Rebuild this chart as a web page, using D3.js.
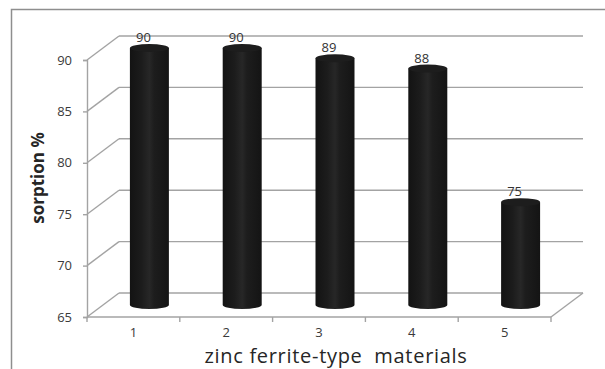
<!DOCTYPE html>
<html>
<head>
<meta charset="utf-8">
<script src="https://cdn.jsdelivr.net/npm/d3@7"></script>
<style>
  html, body { margin: 0; padding: 0; background: #fff; }
  svg { display: block; font-family: "Open Sans", "DejaVu Sans", sans-serif; }
</style>
</head>
<body>
<svg id="chart" width="605" height="369"></svg>
<script>
// Sorption of zinc ferrite-type materials
const categories = ["1", "2", "3", "4", "5"];
const sorption = [90, 90, 89, 88, 75];
const yTicks = [65, 70, 75, 80, 85, 90];

const svg = d3.select("#chart");

// Front plane of the 3-D plot box and the depth offset of the back wall
const x0 = 87, x1 = 551, yBottom = 317, yTop = 60;
const depthX = 32, depthY = -24;

const x = d3.scaleBand().domain(categories).range([x0, x1]).paddingInner(0).paddingOuter(0);
const y = d3.scaleLinear().domain([65, 90]).range([yBottom, yTop]);

const gridColor = "#a3a3a3";

// Outer chart frame
svg.append("rect")
  .attr("x", 11.5).attr("y", 9.5)
  .attr("width", 700).attr("height", 400)
  .attr("fill", "none").attr("stroke", "#8e8e8e").attr("stroke-width", 1.5);

// Back-wall gridlines and their side-wall diagonals
const grid = svg.append("g").attr("stroke", gridColor).attr("stroke-width", 1.4).attr("fill", "none");
yTicks.forEach(t => {
  grid.append("line")
    .attr("x1", x0 + depthX).attr("y1", y(t) + depthY)
    .attr("x2", x1 + depthX).attr("y2", y(t) + depthY);
  grid.append("line")
    .attr("x1", x0).attr("y1", y(t))
    .attr("x2", x0 + depthX).attr("y2", y(t) + depthY);
});
// Floor: front edge and right edge
grid.append("line")
  .attr("x1", x0).attr("y1", y(65)).attr("x2", x1).attr("y2", y(65));
grid.append("line")
  .attr("x1", x1).attr("y1", y(65)).attr("x2", x1 + depthX).attr("y2", y(65) + depthY);

// Front vertical axis
const yAxis = svg.append("g")
  .attr("transform", `translate(${x0},0)`)
  .call(d3.axisLeft(y).tickValues(yTicks).tickSize(4).tickPadding(11).tickFormat(d3.format("d")));
yAxis.select(".domain").attr("stroke", gridColor).attr("stroke-width", 1.4);
yAxis.selectAll(".tick line").attr("stroke", gridColor).attr("stroke-width", 1.4);
yAxis.selectAll(".tick text")
  .attr("font-size", 13).attr("fill", "#3a3a3a")
  .attr("font-family", "'Open Sans', sans-serif");

// Category axis: labels at band centres, tick marks at band boundaries
const xAxis = svg.append("g")
  .attr("transform", `translate(0,${yBottom})`)
  .call(d3.axisBottom(x).tickSize(0).tickPadding(10.5));
xAxis.select(".domain").remove();
xAxis.selectAll(".tick text")
  .attr("font-size", 13).attr("fill", "#3a3a3a")
  .attr("font-family", "'Open Sans', sans-serif");
const bounds = categories.map(c => x(c)).concat([x1]);
svg.append("g").selectAll("line").data(bounds).join("line")
  .attr("x1", d => d).attr("x2", d => d)
  .attr("y1", yBottom).attr("y2", yBottom + 5)
  .attr("stroke", gridColor).attr("stroke-width", 1.4);

// Cylinder shading
const defs = svg.append("defs");
const body = defs.append("linearGradient").attr("id", "cylBody").attr("x1", "0").attr("x2", "1").attr("y1", "0").attr("y2", "0");
[[0, "#131313"], [0.3, "#1c1c1c"], [0.5, "#272727"], [0.62, "#1d1d1d"], [1, "#141414"]]
  .forEach(([o, c]) => body.append("stop").attr("offset", o).attr("stop-color", c));

const rx = 19.5, ry = 4;
const bars = categories.map((c, i) => ({
  cat: c,
  value: sorption[i],
  cx: x(c) + x.bandwidth() / 2 + depthX / 2,
  top: y(sorption[i]) + depthY / 2,
  base: y(65) + depthY / 2
}));

const cyl = svg.append("g").selectAll("g").data(bars).join("g");
cyl.append("path")
  .attr("d", d => `M${d.cx - rx},${d.top} L${d.cx - rx},${d.base}
    A${rx},${ry} 0 0 0 ${d.cx + rx},${d.base} L${d.cx + rx},${d.top} Z`)
  .attr("fill", "url(#cylBody)");
cyl.append("ellipse")
  .attr("cx", d => d.cx).attr("cy", d => d.top)
  .attr("rx", rx).attr("ry", ry)
  .attr("fill", "#1d1d1d");

// Value labels
svg.append("g").selectAll("text").data(bars).join("text")
  .attr("x", d => d.cx - 6)
  .attr("y", d => d.top - ry - 2)
  .attr("text-anchor", "middle")
  .attr("font-size", 13).attr("fill", "#333")
  .text(d => d.value);

// Axis titles
svg.append("text")
  .attr("transform", "translate(44,178) rotate(-90)")
  .attr("text-anchor", "middle")
  .attr("font-size", 17).attr("font-weight", "bold").attr("fill", "#262626")
  .text("sorption %");

svg.append("text")
  .attr("x", 336).attr("y", 362.5)
  .attr("text-anchor", "middle")
  .attr("font-size", 20).attr("letter-spacing", 0.7).attr("fill", "#262626")
  .attr("xml:space", "preserve")
  .style("white-space", "pre")
  .text("zinc ferrite-type  materials");
</script>
</body>
</html>
